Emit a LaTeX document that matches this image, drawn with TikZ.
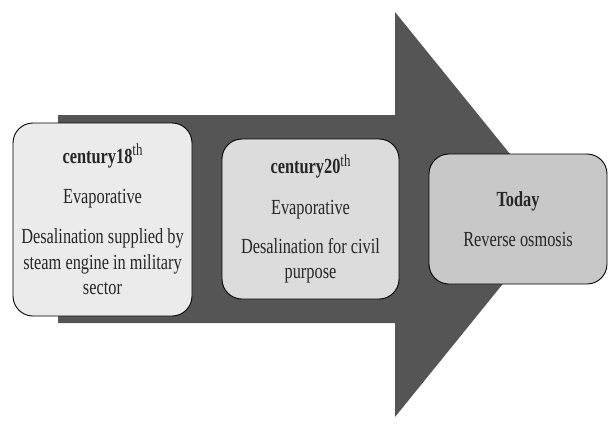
\documentclass[tikz,border=0pt]{standalone}
\usepackage{fontspec}
\setmainfont{Liberation Serif}[FakeStretch=0.76]
\usepackage{tikz}
\usetikzlibrary{positioning,calc}
\definecolor{cArrow}{HTML}{555555}
\definecolor{cBoxA}{HTML}{EBEBEB}
\definecolor{cBoxB}{HTML}{DCDCDC}
\definecolor{cBoxC}{HTML}{C8C8C8}
\newcommand{\ordth}{\raisebox{7.5pt}{\fontsize{17}{17}\selectfont th}}

\begin{document}
\begin{tikzpicture}[x=1pt,y=-1pt,font=\fontsize{21.5}{25.5}\selectfont,
      era/.style={draw=black,line width=0.9pt,rounded corners=20pt,
                  align=center,inner sep=0pt,text=black!85}]
    \useasboundingbox (0,0) rectangle (609,423);
    \fill[cArrow] (58,115) -- (395,115) -- (395,12) -- (559,214.5)
      -- (395,417) -- (395,323) -- (58,323) -- cycle;
    \node[era,fill=cBoxA,minimum width=179pt,minimum height=193pt] (e18) at (102.5,219.5)
      {\textbf{century18}\ordth\\[14.5pt]Evaporative\\[15pt]
       Desalination supplied by\\steam engine in military\\sector};
    \node[era,fill=cBoxB,minimum width=177pt,minimum height=160pt] (e20) at (310.5,219)
      {\textbf{century20}\ordth\\[15pt]Evaporative\\[13.5pt]
       Desalination for civil\\purpose};
    \node[era,fill=cBoxC,minimum width=178pt,minimum height=130pt] (today) at (518,219)
      {\textbf{Today}\\[14.5pt]Reverse osmosis};
  \end{tikzpicture}
\end{document}
